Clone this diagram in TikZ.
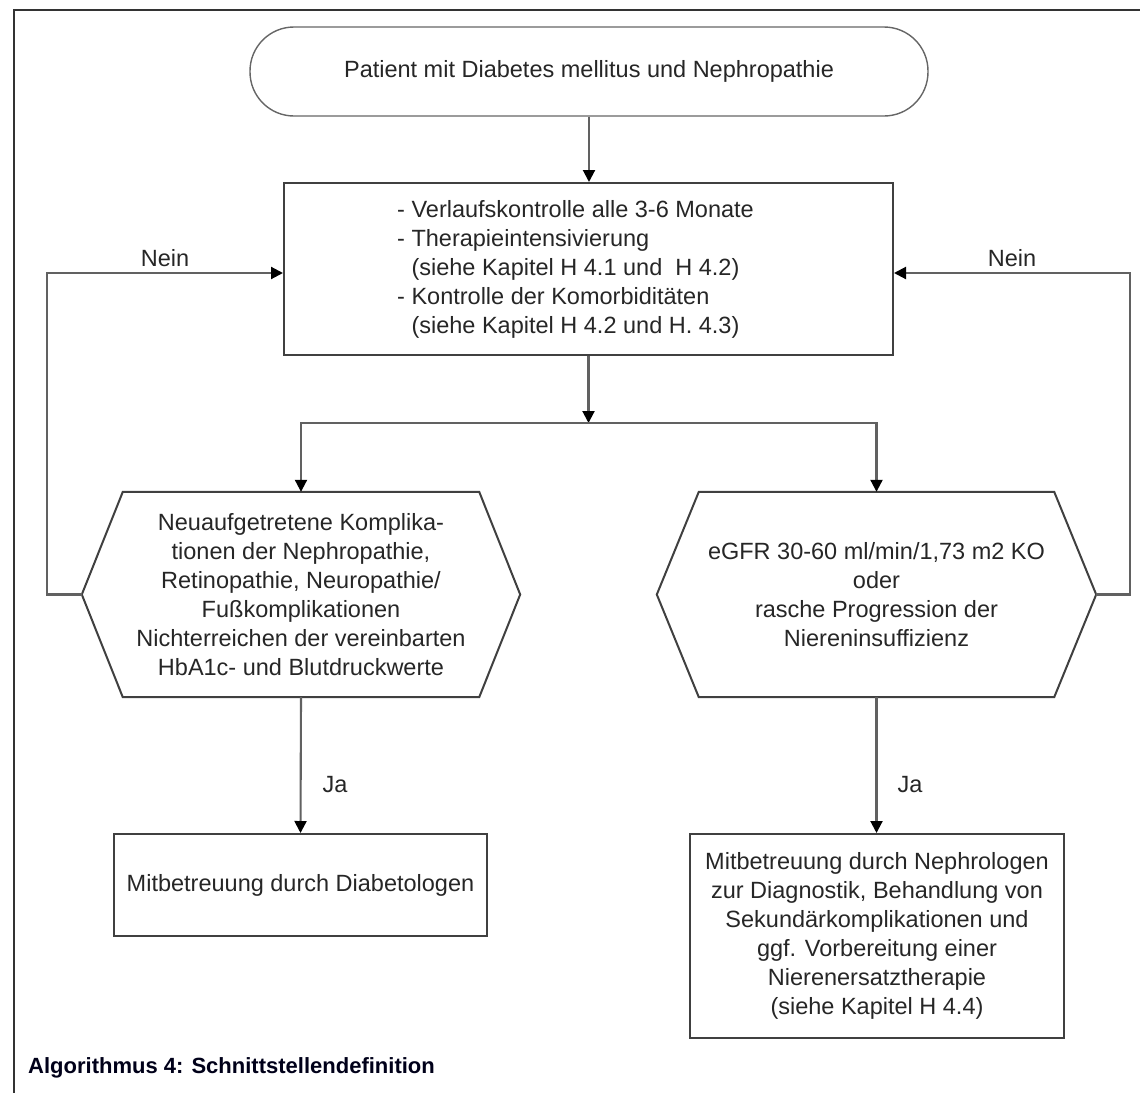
\documentclass[tikz,border=0pt]{standalone}
\usepackage{fontspec}
\setmainfont{Liberation Sans}
\usetikzlibrary{arrows.meta,calc}
\begin{document}
\begin{tikzpicture}[x=1pt,y=-1pt,
  font=\fontsize{23.5}{29}\selectfont,
  box/.style={draw=black!75,line width=2pt},
  conn/.style={draw=black!62,line width=2.1pt},
  arr/.style={conn,-{Triangle[length=12pt,width=12pt,color=black]}},
  lbl/.style={inner sep=0pt,text=black!85},
  txt/.style={align=center,text=black!85,inner sep=0pt}]
\useasboundingbox (0,0) rectangle (1140,1092);
% outer frame (only top and left edges visible)
\draw[draw=black!80,line width=2.6pt] (14,1100) -- (14,10) -- (1150,10);

% terminal
\node[txt,draw=black!60,line width=1.4pt,rounded corners=44pt,minimum width=678pt,minimum height=89pt] (start) at (589,71.5) {Patient mit Diabetes mellitus und Nephropathie};

% main box
\node[box,inner sep=0pt,minimum width=609pt,minimum height=172pt] (main) at (588.5,269) {};
\node[anchor=west,align=left,inner sep=0pt,text=black!85] (maintext) at (397,269) {- Verlaufskontrolle alle 3-6 Monate\\- Therapieintensivierung\\\hphantom{- }(siehe Kapitel H 4.1 und\ \ H 4.2)\\- Kontrolle der Komorbiditäten\\\hphantom{- }(siehe Kapitel H 4.2 und H. 4.3)};

% hexagons
\node[txt,minimum width=438pt,minimum height=205pt] (h1) at (301,594.5) {Neuaufgetretene Komplika-\\tionen der Nephropathie,\\Retinopathie, Neuropathie/\\Fußkomplikationen\\Nichterreichen der vereinbarten\\HbA1c- und Blutdruckwerte};
\draw[box] (h1.west) -- ([xshift=41pt]h1.north west) -- ([xshift=-41pt]h1.north east) -- (h1.east) -- ([xshift=-41pt]h1.south east) -- ([xshift=41pt]h1.south west) -- cycle;

\node[txt,minimum width=439pt,minimum height=205pt] (h2) at (876.5,594.5) {eGFR 30-60 ml/min/1,73 m2 KO\\oder\\rasche Progression der\\Niereninsuffizienz};
\draw[box] (h2.west) -- ([xshift=42pt]h2.north west) -- ([xshift=-42pt]h2.north east) -- (h2.east) -- ([xshift=-42pt]h2.south east) -- ([xshift=42pt]h2.south west) -- cycle;

% bottom boxes
\node[box,txt,minimum width=373pt,minimum height=102pt] (b1) at (300.5,885) {Mitbetreuung durch Diabetologen};
\node[box,txt,minimum width=374pt,minimum height=204pt] (b2) at (877,936) {Mitbetreuung durch Nephrologen\\zur Diagnostik, Behandlung von\\Sekundärkomplikationen und\\ggf. Vorbereitung einer\\Nierenersatztherapie\\(siehe Kapitel H 4.4)};

% connectors
\coordinate (split) at (588.5,423);
\draw[arr] (start.south) -- (start.south |- main.north);
\draw[arr] (main.south) -- (split);
\draw[arr] (split) -| (h1.north);
\draw[arr] (split) -| (h2.north);
\draw[arr] (h1.west) -- ++(-35,0) |- ([yshift=-4pt]main.west);
\draw[arr] (h2.east) -- ++(34,0) |- ([yshift=-4pt]main.east);
\draw[arr] (h1.south) -- (b1.north);
\draw[arr] (h2.south) -- (h2.south |- b2.north);

% labels
\node[lbl] (nein1) at (165,258) {Nein};
\node[lbl] (nein2) at (1012,258) {Nein};
\node[lbl] (ja1) at (335,785) {Ja};
\node[lbl] (ja2) at (910,785) {Ja};

% caption
\node[anchor=west,inner sep=0pt,font=\fontsize{22}{26}\selectfont\bfseries,text=black!90!blue] (cap) at (28,1068) {Algorithmus 4: Schnittstellendefinition};
\end{tikzpicture}
\end{document}
